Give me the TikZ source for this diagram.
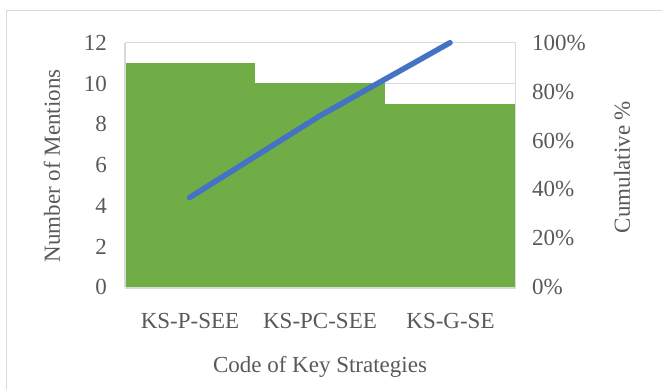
\documentclass[tikz,border=0pt]{standalone}
\usepackage{fontspec}
\setmainfont{Liberation Serif}
\definecolor{txtgray}{HTML}{595959}
\definecolor{gridgray}{HTML}{D9D9D9}
\definecolor{bargreen}{HTML}{70AD47}
\definecolor{lineblue}{HTML}{4472C4}
\tikzset{
  lbl/.style={text=txtgray, font=\fontsize{23}{26}\selectfont, inner sep=0pt},
  ltick/.style={lbl, anchor=east},
  rtick/.style={lbl, anchor=west},
  gridline/.style={draw=gridgray, line width=1.2pt},
  barfill/.style={fill=bargreen},
  cumline/.style={draw=lineblue, line width=5.5pt, line cap=round, line join=round}
}
\begin{document}
\begin{tikzpicture}[x=1pt,y=-1pt]
\useasboundingbox (0,0) rectangle (662,390);
% chart area border
\draw[gridgray, line width=1pt] (6.5,11) rectangle (680,400);
% gridlines (units: 12 units = 244.6 px)
\foreach \v in {0,2,...,12} {
  \draw[gridline] (125,{287.3-\v*20.383}) -- (515.7,{287.3-\v*20.383});
}
\draw[gridline] (125,42.7) -- (125,287.3);
\draw[gridline] (515.7,42.7) -- (515.7,287.3);
% bars
\fill[barfill] (125.6,{287.3-11*20.383}) rectangle (254.5,287.3);
\fill[barfill] (254.5,{287.3-10*20.383}) rectangle (384.5,287.3);
\fill[barfill] (384.5,{287.3-9*20.383}) rectangle (515.1,287.3);
\draw[gridline] (125,288) -- (515.7,288);
% cumulative line
\coordinate (p1) at (189.5,{287.3-0.36667*244.6});
\coordinate (p2) at (319.5,{287.3-0.7*244.6});
\coordinate (p3) at (450,42.7);
\draw[cumline] (p1) -- (p2) -- (p3);
% left ticks
\foreach \v/\n in {0/l0,2/l2,4/l4,6/l6,8/l8,10/l10,12/l12} {
  \node[ltick] (\n) at (107,{287.3-\v*20.383}) {\v};
}
% right ticks
\foreach \p/\n in {0/r0,20/r20,40/r40,60/r60,80/r80,100/r100} {
  \node[rtick] (\n) at (532,{287.3-\p*2.446}) {\p\%};
}
% category labels
\node[lbl] (c1) at (190,321) {KS-P-SEE};
\node[lbl] (c2) at (320,321) {KS-PC-SEE};
\node[lbl] (c3) at (450.5,321) {KS-G-SE};
% axis titles
\node[lbl] (xt) at (320,367) {Code of Key Strategies};
\node[lbl, rotate=90] (yt) at (52,166) {Number of Mentions};
\node[lbl, rotate=90] (yt2) at (622,167) {Cumulative \%};
\end{tikzpicture}
\end{document}
